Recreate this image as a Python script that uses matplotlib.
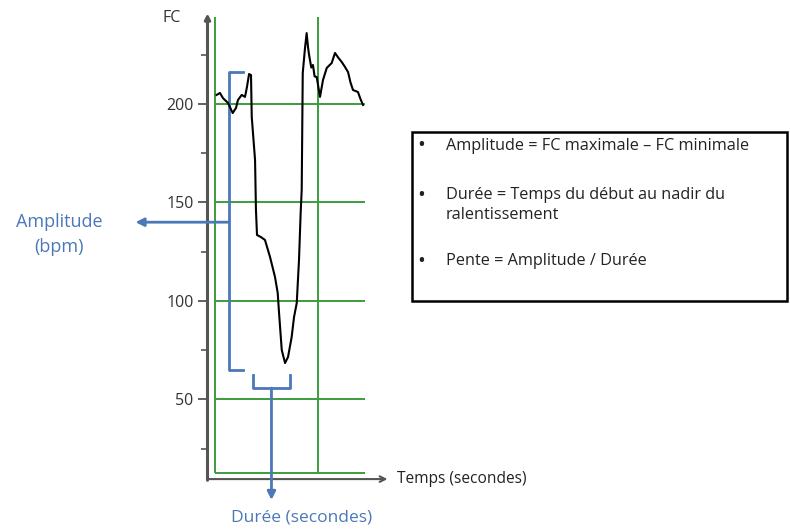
import matplotlib.pyplot as plt
from matplotlib.patches import Rectangle

plt.rcParams['font.family'] = ['Open Sans', 'DejaVu Sans']

# heart-rate trace (time in s, FC in bpm)
temps = [1.1, 3.3, 5.3, 8.7, 11.8, 14.0, 15.3, 17.8, 20.0, 21.3, 22.7, 24.0,
         24.5, 26.7, 27.3, 28.0, 30.5, 33.3, 36.7, 40.0, 41.8, 42.7, 44.5,
         46.7, 48.7, 51.1, 52.7, 54.5, 55.3, 56.0, 57.1, 57.8, 58.5, 60.0,
         61.1, 62.0, 62.6, 63.3, 64.2, 65.3, 66.4, 67.8, 70.0, 72.0, 74.5,
         77.8, 80.0, 82.2, 84.5, 86.5, 88.7, 90.3, 92.0, 95.3, 97.0, 98.7]
fc = [204.6, 205.6, 203.0, 200.5, 195.4, 198.0, 202.0, 204.6, 203.6, 208.6,
      215.2, 214.7, 193.4, 171.6, 146.2, 133.5, 132.5, 131.0, 122.3, 112.2,
      104.1, 93.9, 75.1, 68.5, 71.6, 81.7, 91.9, 99.0, 110.7, 120.8, 144.7,
      156.3, 215.7, 228.4, 236.0, 228.9, 225.5, 222.3, 218.5, 219.8, 214.0,
      213.7, 203.6, 212.2, 218.3, 220.8, 225.9, 223.5, 221.3, 219.0, 216.2,
      211.0, 207.1, 206.1, 202.5, 199.5]

grid_fc = [12.7, 50, 100, 150, 200]
grid_t = [0, 68.7]
major_ticks = [50, 100, 150, 200]
minor_ticks = [25, 75, 125, 175, 225]

fc_max, fc_min = 216, 65
t_debut, t_nadir = 25.3, 50.0

green = '#3c9c3c'
blue = '#4a78b8'
axis_col = '#555555'

W, H = 790, 531
fig = plt.figure(figsize=(W / 100, H / 100), dpi=100)


def fx(x):
    return x / W


def fy(y):
    return 1 - y / H


ax = fig.add_axes([fx(207.5), fy(488.15), 195 / W, 476.75 / H])
ax.set_xlim(-5, 125)
ax.set_ylim(5, 247)
for s in ax.spines.values():
    s.set_visible(False)

ax.hlines(grid_fc, 0, 100, color=green, lw=1.4, zorder=1)
ax.vlines(grid_t, 12.7, 244, color=green, lw=1.4, zorder=1)

ax.plot(temps, fc, color='black', lw=1.5, zorder=3)

ax.set_xticks([])
ax.set_yticks(major_ticks)
ax.set_yticks(minor_ticks, minor=True)
ax.tick_params(axis='y', which='major', direction='out', length=7, width=1.3,
               color=axis_col, labelsize=11.5, labelcolor='#333333', pad=3)
ax.tick_params(axis='y', which='minor', direction='out', length=5, width=1.2,
               color=axis_col)

# axes with arrows
ax.annotate('', xy=(-5, 246), xytext=(-5, 9.0),
            arrowprops=dict(arrowstyle='-|>', color=axis_col, lw=2.2,
                            mutation_scale=8, shrinkA=0, shrinkB=0),
            annotation_clip=False)
ax.annotate('', xy=(115, 9.6), xytext=(-5, 9.6),
            arrowprops=dict(arrowstyle='->', color=axis_col, lw=1.5,
                            mutation_scale=10, shrinkA=0, shrinkB=0),
            annotation_clip=False)

# amplitude bracket
t_amp, t_amp_end = 9.3, 18.7
ax.plot([t_amp_end, t_amp, t_amp, t_amp_end], [fc_max, fc_max, fc_min, fc_min],
        color=blue, lw=2, zorder=2)
ax.annotate('', xy=(-53, 140), xytext=(t_amp, 140),
            arrowprops=dict(arrowstyle='-|>', color=blue, lw=2,
                            mutation_scale=12, shrinkA=0, shrinkB=0),
            annotation_clip=False)

# duration bracket
t_mid = (t_debut + t_nadir) / 2
ax.plot([t_debut, t_debut, t_nadir, t_nadir], [62.4, 55.8, 55.8, 62.4],
        color=blue, lw=2, zorder=2)
ax.annotate('', xy=(t_mid, -1), xytext=(t_mid, 55.8),
            arrowprops=dict(arrowstyle='-|>', color=blue, lw=2,
                            mutation_scale=12, shrinkA=0, shrinkB=0),
            annotation_clip=False)

# labels
fig.text(fx(172), fy(18), 'FC', ha='center', va='center', fontsize=11.5,
         color='#333333')
fig.text(fx(397), fy(479), 'Temps (secondes)', ha='left', va='center',
         fontsize=11.2, color='#222222')
fig.text(fx(302), fy(518), 'Durée (secondes)', ha='center', va='center',
         fontsize=12.5, color=blue)
fig.text(fx(59), fy(222), 'Amplitude', ha='center', va='center',
         fontsize=13, color=blue)
fig.text(fx(59), fy(247), '(bpm)', ha='center', va='center',
         fontsize=13, color=blue)

# definition box
fig.patches.append(Rectangle((fx(411.5), fy(301)), (787 - 411.5) / W,
                             (301 - 131.5) / H, transform=fig.transFigure,
                             fill=False, ec='black', lw=1.8))
lines = [(146, True, 'Amplitude = FC maximale – FC minimale'),
         (195, True, 'Durée = Temps du début au nadir du'),
         (215, False, 'ralentissement'),
         (261, True, 'Pente = Amplitude / Durée')]
for y, bullet, txt in lines:
    if bullet:
        fig.text(fx(421), fy(y), '•', ha='center', va='center', fontsize=15,
                 color='#222222')
    fig.text(fx(446), fy(y), txt, ha='left', va='center', fontsize=11.7,
             color='#222222')

fig.savefig('out.png', dpi=100)
